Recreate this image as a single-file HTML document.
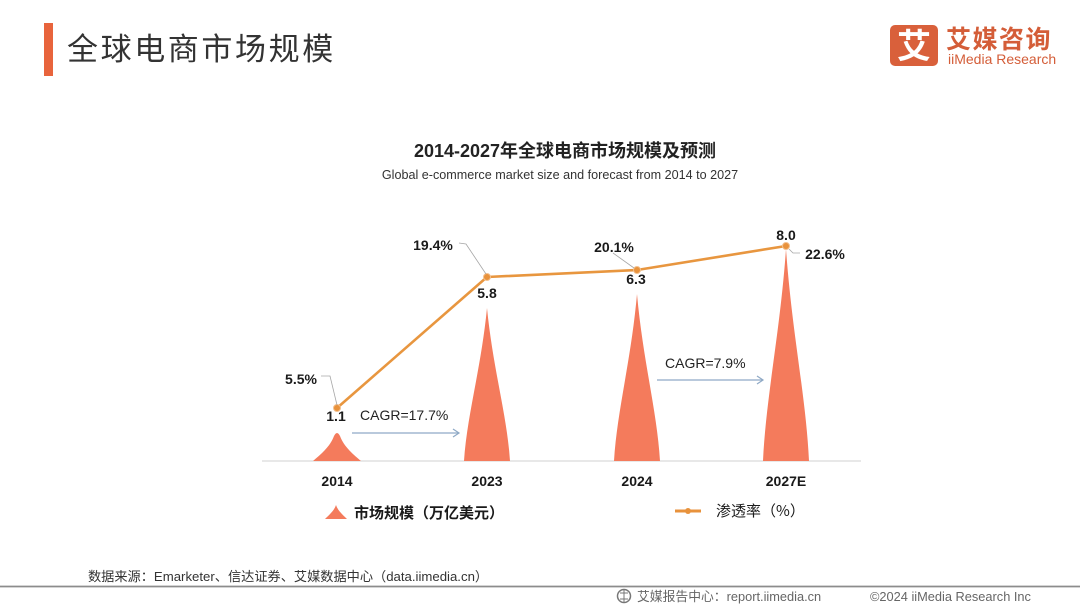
<!DOCTYPE html>
<html>
<head>
<meta charset="utf-8">
<style>
html,body{margin:0;padding:0;background:#fff;}
body{width:1080px;height:608px;overflow:hidden;position:relative;}
svg{position:absolute;left:0;top:0;}
</style>
</head>
<body>
<svg width="1080" height="608" viewBox="0 0 1080 608" xmlns="http://www.w3.org/2000/svg">
  <rect x="0" y="0" width="1080" height="608" fill="#ffffff"/>
  <!-- header -->
  <rect x="44" y="23" width="9" height="53" fill="#e8643c"/>
  <text x="67" y="60" font-family="'Liberation Sans','Noto Sans CJK SC',sans-serif" font-size="31" letter-spacing="2.6" fill="#333">全球电商市场规模</text>

  <!-- logo -->
  <rect x="890" y="25" width="48" height="41" rx="5" fill="#d9603b"/>
  <text x="914" y="58" text-anchor="middle" font-family="'Noto Sans CJK SC',sans-serif" font-weight="bold" font-size="34" fill="#fff">艾</text>
  <text x="946" y="48" font-family="'Noto Sans CJK SC',sans-serif" font-weight="bold" font-size="25" letter-spacing="1.5" fill="#d45d38">艾媒咨询</text>
  <text x="948" y="64" font-family="'Liberation Sans',sans-serif" font-size="14" fill="#d45d38">iiMedia Research</text>

  <!-- chart titles -->
  <text x="565" y="157" text-anchor="middle" font-family="'Liberation Sans','Noto Sans CJK SC',sans-serif" font-weight="bold" font-size="18" fill="#222">2014-2027年全球电商市场规模及预测</text>
  <text x="560" y="179" text-anchor="middle" font-family="'Liberation Sans',sans-serif" font-size="12.6" fill="#333">Global e-commerce market size and forecast from 2014 to 2027</text>

  <!-- axis -->
  <line x1="262" y1="461" x2="861" y2="461" stroke="#d9d9d9" stroke-width="1.2"/>

  <!-- spikes -->
  <g fill="#f47b5c">
    <path d="M313 461 C320 455 330 447 334 436 Q337 430 340 436 C344 447 354 455 361 461 Z"/>
    <path d="M464 461 C467 415 481 369 487 308 C493 369 507 415 510 461 Z"/>
    <path d="M614 461 C617 411 631 361 637 294 C643 361 657 411 660 461 Z"/>
    <path d="M763 461 C766 397 780 333 786 249 C792 333 806 397 809 461 Z"/>
  </g>

  <!-- line series -->
  <polyline points="337,408 487,277 637,270 786,246" fill="none" stroke="#e8963f" stroke-width="2.6" stroke-linejoin="round"/>
  <g fill="#e8923c" stroke="#f3c08e" stroke-width="1">
    <circle cx="337" cy="408" r="3.5"/>
    <circle cx="487" cy="277" r="3.5"/>
    <circle cx="637" cy="270" r="3.5"/>
    <circle cx="786" cy="246" r="3.5"/>
  </g>

  <!-- leader lines -->
  <g fill="none" stroke="#a6a6a6" stroke-width="0.8">
    <polyline points="321,376 330,376 337,405"/>
    <polyline points="459,243 466,244 486,274"/>
    <polyline points="613,253 634,268"/>
    <polyline points="789,249 793,253 800,253"/>
  </g>

  <!-- data labels -->
  <g font-family="'Liberation Sans',sans-serif" font-weight="bold" font-size="14" fill="#1a1a1a" text-anchor="middle">
    <text x="301" y="384">5.5%</text>
    <text x="336" y="421">1.1</text>
    <text x="433" y="250">19.4%</text>
    <text x="487" y="298">5.8</text>
    <text x="614" y="252">20.1%</text>
    <text x="636" y="284">6.3</text>
    <text x="786" y="240">8.0</text>
    <text x="825" y="259">22.6%</text>
  </g>

  <!-- CAGR -->
  <g font-family="'Liberation Sans',sans-serif" font-size="14" fill="#222">
    <text x="360" y="420">CAGR=17.7%</text>
    <text x="665" y="368">CAGR=7.9%</text>
  </g>
  <g fill="none" stroke="#8fa9c6" stroke-width="1.2">
    <line x1="352" y1="433" x2="459" y2="433"/>
    <polyline points="453,429 459,433 453,437"/>
    <line x1="657" y1="380" x2="763" y2="380"/>
    <polyline points="757,376 763,380 757,384"/>
  </g>

  <!-- category labels -->
  <g font-family="'Liberation Sans',sans-serif" font-weight="bold" font-size="14" fill="#1a1a1a" text-anchor="middle">
    <text x="337" y="486">2014</text>
    <text x="487" y="486">2023</text>
    <text x="637" y="486">2024</text>
    <text x="786" y="486">2027E</text>
  </g>

  <!-- legend -->
  <path d="M325 519 C329 515 334 511 336 505 C338 511 343 515 347 519 Z" fill="#f47b5c"/>
  <text x="354" y="518" font-family="'Noto Sans CJK SC',sans-serif" font-weight="bold" font-size="15" fill="#1a1a1a">市场规模（万亿美元）</text>
  <line x1="675" y1="511" x2="701" y2="511" stroke="#e8923c" stroke-width="3"/>
  <circle cx="688" cy="511" r="3" fill="#e8923c"/>
  <text x="716" y="516" font-family="'Noto Sans CJK SC',sans-serif" font-size="15" fill="#1a1a1a">渗透率（%）</text>

  <!-- source -->
  <text x="88" y="581" font-family="'Liberation Sans','Noto Sans CJK SC',sans-serif" font-size="13.2" fill="#333">数据来源：Emarketer、信达证券、艾媒数据中心（data.iimedia.cn）</text>
  <line x1="0" y1="586.5" x2="1080" y2="586.5" stroke="#8c8c8c" stroke-width="1.8"/>

  <!-- footer -->
  <circle cx="624" cy="596" r="6.5" fill="none" stroke="#777" stroke-width="1.5"/>
  <path d="M620 593 L628 593 M624 590 L624 602 M620 599 L628 599" stroke="#777" stroke-width="1"/>
  <text x="637" y="601" font-family="'Liberation Sans','Noto Sans CJK SC',sans-serif" font-size="12.8" fill="#666">艾媒报告中心：report.iimedia.cn</text>
  <text x="870" y="601" font-family="'Liberation Sans',sans-serif" font-size="12.8" fill="#666">©2024  iiMedia Research  Inc</text>
</svg>
</body>
</html>
